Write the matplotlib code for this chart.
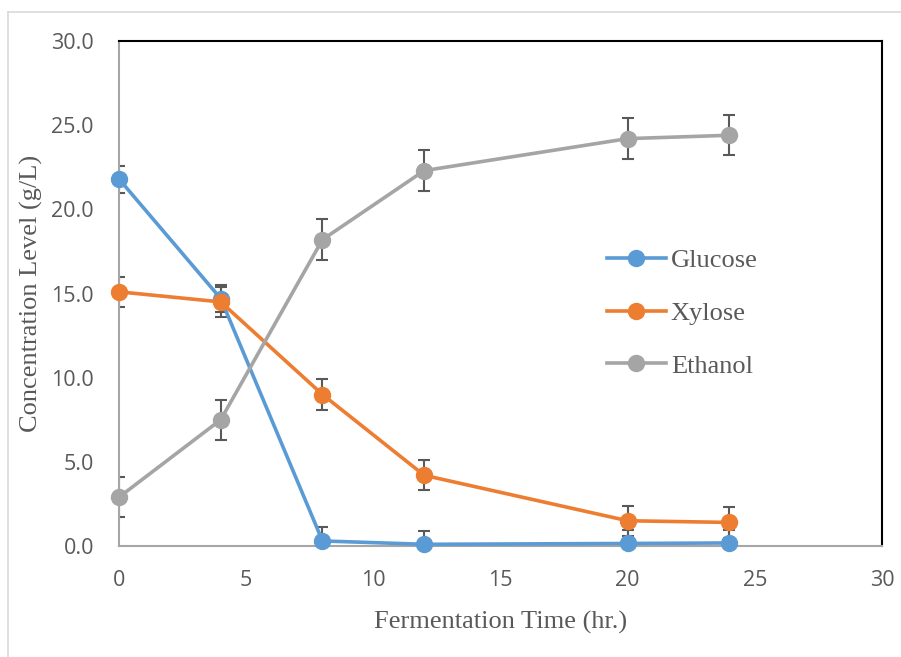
import matplotlib.pyplot as plt
from matplotlib.lines import Line2D

# fermentation time points (hr)
time_hr = [0, 4, 8, 12, 20, 24]

glucose = [21.8, 14.7, 0.3, 0.1, 0.15, 0.18]
xylose = [15.1, 14.5, 9.0, 4.2, 1.5, 1.4]
ethanol = [2.9, 7.5, 18.2, 22.3, 24.2, 24.4]

glucose_err = [0.8, 0.8, 0.8, 0.8, 0.8, 0.8]
xylose_err = [0.9, 0.9, 0.9, 0.9, 0.9, 0.9]
ethanol_err = [1.2, 1.2, 1.2, 1.2, 1.2, 1.2]

series = [
    ("Glucose", glucose, glucose_err, "#5B9BD5"),
    ("Xylose", xylose, xylose_err, "#ED7D31"),
    ("Ethanol", ethanol, ethanol_err, "#A5A5A5"),
]

fig = plt.figure(figsize=(9.01, 6.57), dpi=100)
ax = fig.add_axes([119 / 901, 111 / 657, 763 / 901, 505 / 657])

for name, vals, errs, col in series:
    ax.errorbar(time_hr, vals, yerr=errs, fmt="none", ecolor="#595959",
                elinewidth=1.5, capsize=4.5, capthick=1.5, zorder=2)
for name, vals, errs, col in series:
    ax.plot(time_hr, vals, color=col, lw=2.6, marker="o", markersize=11.5,
            label=name, clip_on=False, zorder=3)

ax.set_xlim(0, 30)
ax.set_ylim(0, 30)
ax.set_xticks(range(0, 31, 5))
ax.set_yticks(range(0, 31, 5))
ax.set_yticklabels([f"{v:.1f}" for v in range(0, 31, 5)])
ax.tick_params(length=0, labelsize=15.5, labelcolor="#595959")
ax.tick_params(axis="y", pad=18)
ax.tick_params(axis="x", pad=17)
for lbl in ax.get_xticklabels() + ax.get_yticklabels():
    lbl.set_family("Open Sans")

for side in ["left", "bottom"]:
    ax.spines[side].set_color("#A6A6A6")
    ax.spines[side].set_linewidth(1.5)
for side in ["top", "right"]:
    ax.spines[side].set_color("black")
    ax.spines[side].set_linewidth(1.5)

ax.set_xlabel("Fermentation Time (hr.)", family="Liberation Serif",
              fontsize=19, color="#595959")
ax.set_ylabel("Concentration Level (g/L)", family="Liberation Serif",
              fontsize=19, color="#595959")
ax.xaxis.set_label_coords(0.5, -0.128)
ax.yaxis.set_label_coords(-0.1, 0.5)

leg = ax.legend(loc="center left", bbox_to_anchor=(0.622, 0.461), frameon=False,
                prop={"family": "Liberation Serif", "size": 19}, borderpad=0,
                handlelength=2.23, handletextpad=0.2, labelspacing=1.11)
for t in leg.get_texts():
    t.set_color("#595959")

# outer chart border
fig.add_artist(Line2D([8 / 901, 8 / 901], [0, 1 - 12 / 657],
                      transform=fig.transFigure, color="#D9D9D9", lw=1.2))
fig.add_artist(Line2D([8 / 901, 1], [1 - 12 / 657, 1 - 12 / 657],
                      transform=fig.transFigure, color="#D9D9D9", lw=1.2))

fig.savefig("out.png", dpi=100)
